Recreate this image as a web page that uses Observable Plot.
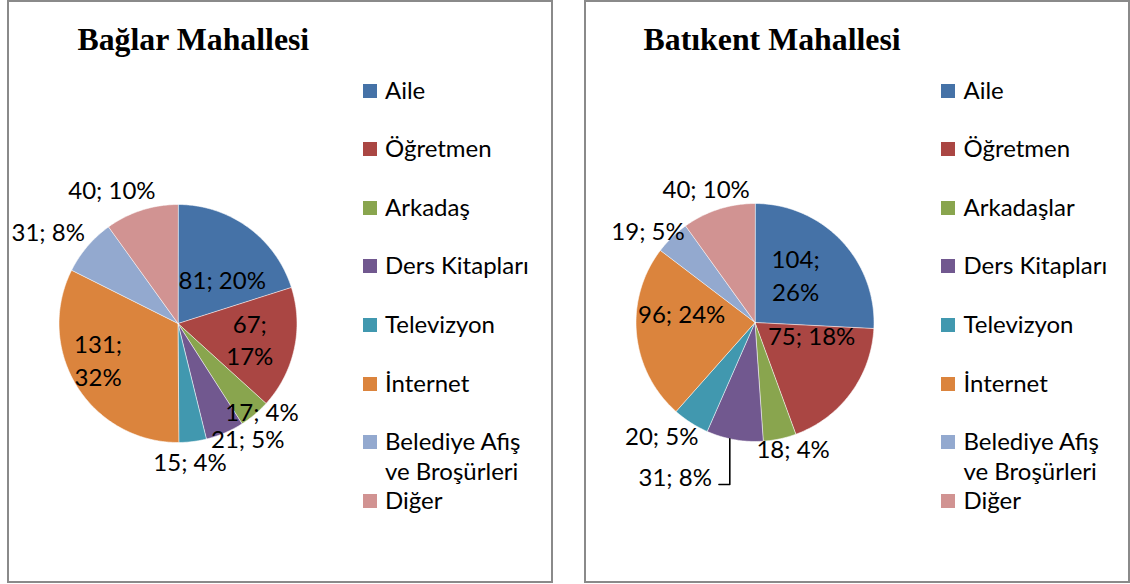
<!DOCTYPE html>
<html><head><meta charset="utf-8">
<script src="https://cdn.jsdelivr.net/npm/d3@7"></script>
<script src="https://cdn.jsdelivr.net/npm/@observablehq/plot@0.6"></script>
<style>
body{margin:0;background:#fff;width:1130px;height:584px;overflow:hidden;position:relative;font-family:Lato,sans-serif}
.panel{position:absolute;top:0;height:583px;border:2px solid #8a8a8a;box-sizing:border-box;background:#fff}
.chart{position:absolute;top:0}
.title{position:absolute;font-family:"Liberation Serif","Times New Roman",serif;font-weight:bold;font-size:31.8px;white-space:nowrap;line-height:1;color:#000}
.legtext{position:absolute;font-size:24px;line-height:26px;color:#000;white-space:nowrap}
.swatch{position:absolute;width:14px;height:14px}
</style></head><body>
<script>
// ---- data ----
const categoriesBaglar = ["Aile","Öğretmen","Arkadaş","Ders Kitapları","Televizyon","İnternet","Belediye Afiş ve Broşürleri","Diğer"];
const valuesBaglar = [81,67,17,21,15,131,31,40];
const percentBaglar = [20,17,4,5,4,32,8,10];

const categoriesBatikent = ["Aile","Öğretmen","Arkadaşlar","Ders Kitapları","Televizyon","İnternet","Belediye Afiş ve Broşürleri","Diğer"];
const valuesBatikent = [104,75,18,31,20,96,19,40];
const percentBatikent = [26,18,4,8,5,24,5,10];

const sliceColors = ["#4572A7","#AA4643","#89A54E","#71588F","#4198AF","#DB843D","#93A9CF","#D19392"];

// ---- layout (label placement: radius factor, angle shift in degrees) ----
const labelLayoutBaglar = [
  {r:.52,shift:9.5},{r:.62,shift:1,wrap:true},{r:1.03,shift:-3.1},{r:1.14,shift:-7.7},
  {r:1.17,shift:2.2},{r:.74,shift:7.1,wrap:true},{r:1.33,shift:-5.5},{r:1.25,shift:-8.5}];
const labelLayoutBatikent = [
  {r:.52,shift:-5.4,wrap:true},{r:.49,shift:-22.6},{r:1.11,shift:-4.7},{r:1.36,shift:5.6,leader:true,leaderShift:2.4},
  {r:1.24,shift:6.6},{r:.62,shift:11.8},{r:1.18,shift:-5.4},{r:1.19,shift:-2.3}];

function legendLines(s){ return s.replace(" ve ", "\nve ").split("\n"); }

function drawPanel(o){
  const panel = document.createElement("div");
  panel.className = "panel";
  panel.style.left = o.left + "px";
  panel.style.width = o.width + "px";
  document.body.appendChild(panel);

  const R = 119, cx = o.cx, cy = o.cy;
  const total = d3.sum(o.values);
  const cum = d3.cumsum(o.values);
  const slices = o.values.map((v,i)=>({cat:o.categories[i], v, a0:(cum[i]-v)/total*2*Math.PI, a1:cum[i]/total*2*Math.PI}));
  const pts = slices.flatMap(s=>{
    const n = Math.max(2, Math.ceil((s.a1-s.a0)*180/Math.PI));
    return [{cat:s.cat,x:0,y:0}, ...d3.range(n+1).map(k=>{const a=s.a0+(s.a1-s.a0)*k/n; return {cat:s.cat,x:Math.sin(a),y:Math.cos(a)};})];
  });
  const labels = slices.map((s,i)=>{
    const L = o.layout[i];
    const mid = (s.a0+s.a1)/2;
    const a = mid + L.shift*Math.PI/180;
    return {x:L.r*Math.sin(a), y:L.r*Math.cos(a), anchorAngle: mid + (L.leaderShift||0)*Math.PI/180, leader:!!L.leader,
      text: L.wrap ? `${s.v};\n${o.percents[i]}%` : `${s.v}; ${o.percents[i]}%`};
  });
  const leaderPts = labels.filter(d=>d.leader).flatMap(d=>{
    const px = Math.sin(d.anchorAngle), py = Math.cos(d.anchorAngle), ly = d.y - 6/R;
    return [{x:px,y:py},{x:px,y:ly},{x:d.x+7/R,y:ly}];
  });

  const svg = Plot.plot({
    width:o.width, height:583, margin:0,
    style:{background:"transparent", overflow:"visible"},
    x:{domain:[-1,1], range:[cx-R,cx+R], axis:null},
    y:{domain:[-1,1], range:[cy+R,cy-R], axis:null},
    color:{domain:o.categories, range:sliceColors},
    marks:[
      Plot.line(pts,{x:"x",y:"y",z:"cat",fill:"cat",stroke:"#ffffff",strokeWidth:0.8,strokeOpacity:0.7,curve:"linear-closed"}),
      Plot.line(leaderPts,{x:"x",y:"y",stroke:"#000",strokeWidth:1.6}),
      Plot.text(labels.filter(d=>!d.leader),{x:"x",y:"y",dy:-2,text:"text",fontSize:24,fontFamily:"Lato",fill:"#000",lineHeight:1.375}),
      Plot.text(labels.filter(d=>d.leader),{x:"x",y:"y",text:"text",fontSize:24,fontFamily:"Lato",fill:"#000",textAnchor:"end"})
    ]
  });
  svg.classList.add("chart");
  svg.style.left = o.left + "px";
  document.body.appendChild(svg);

  const t = document.createElement("div");
  t.className = "title";
  t.textContent = o.title;
  t.style.left = (o.left + o.titleX) + "px";
  t.style.top = "24px";
  document.body.appendChild(t);

  o.categories.forEach((c,i)=>{
    const rowY = 90.5 + i*58.6;
    const sw = document.createElement("div");
    sw.className = "swatch";
    sw.style.background = sliceColors[i];
    sw.style.left = (o.left + o.legendX) + "px";
    sw.style.top = (rowY - 7) + "px";
    document.body.appendChild(sw);
    legendLines(c).forEach((line,j)=>{
      const tx = document.createElement("div");
      tx.className = "legtext";
      tx.textContent = line;
      tx.style.left = (o.left + o.legendX + 22.5) + "px";
      tx.style.top = (rowY - 14 + j*29.5) + "px";
      document.body.appendChild(tx);
    });
  });
}

drawPanel({left:7, width:546, cx:170.5, cy:323, title:"Bağlar Mahallesi", titleX:70.5,
  categories:categoriesBaglar, values:valuesBaglar, percents:percentBaglar, layout:labelLayoutBaglar, legendX:355.5});
drawPanel({left:584, width:546, cx:170.5, cy:322, title:"Batıkent Mahallesi", titleX:59.6,
  categories:categoriesBatikent, values:valuesBatikent, percents:percentBatikent, layout:labelLayoutBatikent, legendX:357});
</script>
</body></html>
